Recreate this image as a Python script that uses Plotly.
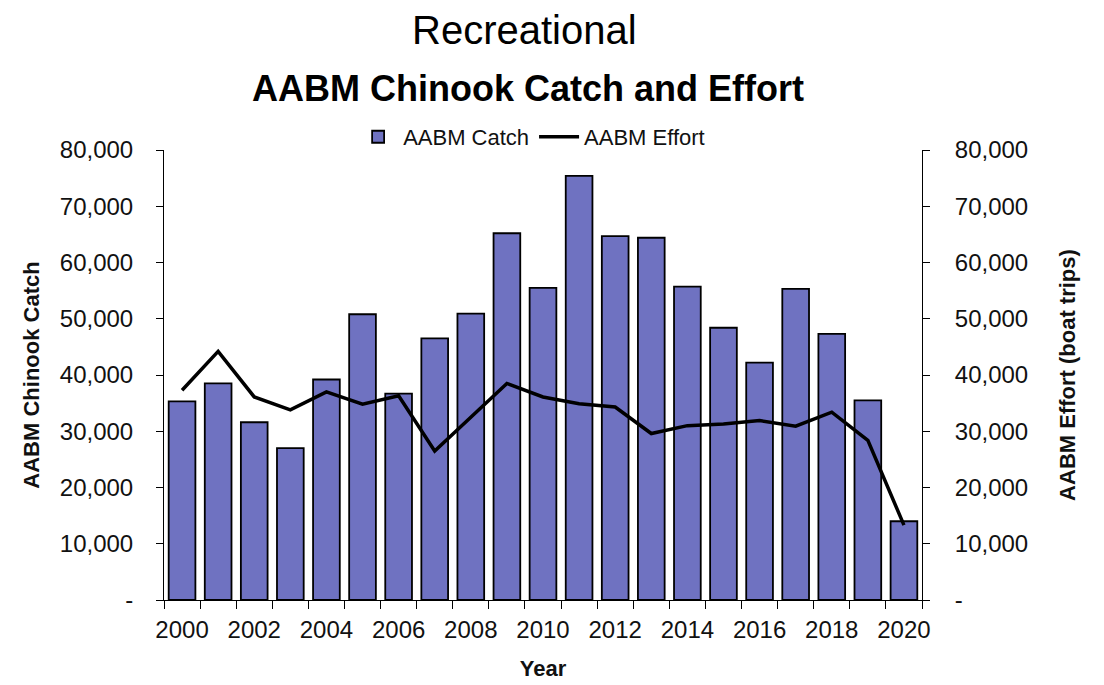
import plotly.graph_objects as go

years = list(range(2000, 2021))
catch = [35300, 38500, 31600, 27000, 39200, 50800, 36700, 46500, 50900, 65200, 55500,
         75400, 64700, 64400, 55700, 48400, 42200, 55300, 47300, 35500, 14000]
effort = [37300, 44200, 36100, 33800, 37000, 34800, 36300, 26500, 32500, 38500, 36100,
          34900, 34300, 29600, 31000, 31300, 31900, 30900, 33400, 28400, 13300]
ytickvals = [0, 10000, 20000, 30000, 40000, 50000, 60000, 70000, 80000]
yticktext = ["-", "10,000", "20,000", "30,000", "40,000", "50,000", "60,000", "70,000", "80,000"]
xcats = [str(y) for y in years]
xticktext = [str(y) if y % 2 == 0 else "" for y in years]

FONT = "Liberation Sans, Arial, sans-serif"
TICK = 24

fig = go.Figure()
fig.add_trace(go.Bar(
    x=xcats, y=catch, name="AABM Catch",
    marker=dict(color="#6F72C1", line=dict(color="black", width=1.8)),
))
fig.add_trace(go.Scatter(
    x=xcats, y=effort, name="AABM Effort", yaxis="y2", mode="lines",
    line=dict(color="black", width=3.5),
))

fig.update_layout(
    width=1104, height=685,
    margin=dict(l=164, r=182, t=150, b=85),
    paper_bgcolor="white", plot_bgcolor="white",
    font=dict(family=FONT, size=TICK, color="#111"),
    bargap=0.26,
    showlegend=True,
    legend=dict(orientation="h", x=0.485, xanchor="center", y=1.029, yanchor="middle",
                font=dict(size=22), itemwidth=40, tracegroupgap=0,
                bgcolor="rgba(0,0,0,0)"),
    xaxis=dict(type="category", tickmode="array", tickvals=xcats, ticktext=xticktext,
               tickson="boundaries", ticks="outside", ticklen=8, tickcolor="black",
               showline=True, linecolor="black", linewidth=1, showgrid=False,
               tickangle=0, tickfont=dict(size=TICK), ticklabelstandoff=8, automargin=False,
               title=dict(text="<b>Year</b>", font=dict(size=22), standoff=18)),
    yaxis=dict(range=[0, 80000], tickmode="array", tickvals=ytickvals, ticktext=yticktext,
               ticks="outside", ticklen=7, tickcolor="black", showline=True, linecolor="black",
               linewidth=1, showgrid=False, zeroline=False, tickfont=dict(size=TICK),
               ticklabelstandoff=18, automargin=False,
               title=dict(text="<b>AABM Chinook Catch</b>", font=dict(size=22), standoff=14)),
    yaxis2=dict(range=[0, 80000], overlaying="y", side="right", tickmode="array",
                tickvals=ytickvals, ticktext=yticktext, ticks="outside", ticklen=7,
                tickcolor="black", showline=True, linecolor="black", linewidth=1,
                showgrid=False, zeroline=False, tickfont=dict(size=TICK),
                ticklabelstandoff=20, automargin=False,
                title=dict(text="<b>AABM Effort (boat trips)</b>", font=dict(size=22), standoff=32)),
    annotations=[
        dict(text="Recreational", x=0.475, y=1.0, xref="paper", yref="paper",
             yshift=120, showarrow=False, xanchor="center", yanchor="middle",
             font=dict(family="Liberation Sans Narrow, Arial Narrow, Liberation Sans, Arial", size=40, color="black")),
        dict(text="<b>AABM Chinook Catch and Effort</b>", x=0.48, y=1.0, xref="paper", yref="paper",
             yshift=62, showarrow=False, xanchor="center", yanchor="middle",
             font=dict(family=FONT, size=36, color="black")),
    ],
)

fig.write_html("out.html")
